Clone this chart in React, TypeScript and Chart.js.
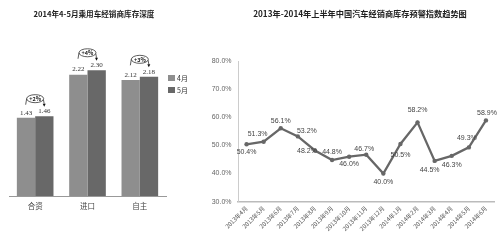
import React, { useEffect, useRef } from 'react';
import { Chart, registerables } from 'chart.js';

Chart.register(...registerables);

// ---------- Left chart data ----------
const leftTitle = '2014年4-5月乘用车经销商库存深度';
const barCategories = ['合资', '进口', '自主'];
const barSeriesNames = ['4月', '5月'];
const aprilValues = [1.43, 2.22, 2.12];
const mayValues = [1.46, 2.3, 2.18];
const changeLabels = ['+2%', '+4%', '+3%'];

// ---------- Right chart data ----------
const rightTitle = '2013年-2014年上半年中国汽车经销商库存预警指数趋势图';
const months = [
  '2013年4月', '2013年5月', '2013年6月', '2013年7月', '2013年8月',
  '2013年9月', '2013年10月', '2013年11月', '2013年12月', '2014年1月',
  '2014年2月', '2014年3月', '2014年4月', '2014年5月', '2014年6月',
];
const warningIndex = [50.4, 51.3, 56.1, 53.2, 48.2, 44.8, 46.0, 46.7, 40.0, 50.5, 58.2, 44.5, 46.3, 49.3, 58.9];
const yMin = 30;
const yMax = 80;
const yStep = 10;

// label placement (style only): [dx, dy] from point
const pointLabelOffsets = [
  [0, 8], [-6, -8], [0, -7], [9, -5], [-8, 1], [0, -8], [0, 7], [-2, -6],
  [0, 9], [0, 11], [0, -12], [-5, 9], [0, 9], [-2, -9], [1, -7],
];

const APRIL_COLOR = '#8e8e8e';
const MAY_COLOR = '#686868';
const CJK = '"Noto Sans CJK SC", "Noto Sans", sans-serif';

const leftPlugin = {
  id: 'leftDecor',
  afterDatasetsDraw(chart: any) {
    const ctx = chart.ctx;
    ctx.save();
    ctx.fillStyle = '#222';
    ctx.textAlign = 'center';
    ctx.textBaseline = 'middle';
    ctx.font = `bold 7.6px ${CJK}`;
    ctx.fillText(leftTitle, 94, 14);

    const m0 = chart.getDatasetMeta(0);
    const m1 = chart.getDatasetMeta(1);
    // value labels
    ctx.font = '7px "Liberation Serif", serif';
    ctx.fillStyle = '#333';
    [m0, m1].forEach((meta: any, di: number) => {
      meta.data.forEach((bar: any, i: number) => {
        const v = chart.data.datasets[di].data[i] as number;
        ctx.fillText(v.toFixed(2), bar.x, bar.y - 5);
      });
    });
    // change annotations
    m0.data.forEach((b0: any, i: number) => {
      const b1 = m1.data[i];
      const cx = (b0.x + b1.x) / 2;
      const cy = Math.min(b0.y, b1.y) - 17.5;
      ctx.strokeStyle = '#333';
      ctx.lineWidth = 0.8;
      ctx.beginPath();
      ctx.ellipse(cx, cy, 8.5, 4, 0, 0, Math.PI * 2);
      ctx.stroke();
      ctx.beginPath();
      ctx.moveTo(cx - 8.5, cy);
      ctx.lineTo(cx - 9.5, cy + 6);
      ctx.stroke();
      ctx.beginPath();
      ctx.moveTo(cx + 8.3, cy + 1);
      ctx.lineTo(cx + 9, cy + 5);
      ctx.stroke();
      ctx.fillStyle = '#111';
      ctx.beginPath();
      ctx.moveTo(cx + 7.5, cy + 5);
      ctx.lineTo(cx + 10.5, cy + 5);
      ctx.lineTo(cx + 9, cy + 8);
      ctx.closePath();
      ctx.fill();
      ctx.font = `bold 5.5px ${CJK}`;
      ctx.fillStyle = '#222';
      ctx.fillText(changeLabels[i], cx, cy + 0.5);
    });
    // legend
    const colors = [APRIL_COLOR, MAY_COLOR];
    ctx.textAlign = 'left';
    ctx.font = `7px ${CJK}`;
    barSeriesNames.forEach((name, i) => {
      const y = 75 + i * 12;
      ctx.fillStyle = colors[i];
      ctx.fillRect(168, y, 7, 6);
      ctx.fillStyle = '#333';
      ctx.fillText(name, 177, y + 3);
    });
    ctx.restore();
  },
};

const rightPlugin = {
  id: 'rightDecor',
  afterDatasetsDraw(chart: any) {
    const ctx = chart.ctx;
    ctx.save();
    ctx.fillStyle = '#222';
    ctx.textAlign = 'center';
    ctx.textBaseline = 'middle';
    ctx.font = `bold 8.2px ${CJK}`;
    ctx.fillText(rightTitle, 160, 13.5);

    const meta = chart.getDatasetMeta(0);
    ctx.font = '7px "Liberation Sans", sans-serif';
    ctx.fillStyle = '#444';
    meta.data.forEach((pt: any, i: number) => {
      const v = warningIndex[i];
      const [dx, dy] = pointLabelOffsets[i];
      ctx.fillText(v.toFixed(1) + '%', pt.x + dx, pt.y + dy);
    });
    ctx.restore();
  },
};

function LeftChart() {
  const ref = useRef<HTMLCanvasElement>(null);
  useEffect(() => {
    if (!ref.current) return;
    const chart = new Chart(ref.current, {
      type: 'bar',
      data: {
        labels: barCategories,
        datasets: [
          { label: barSeriesNames[0], data: aprilValues, backgroundColor: APRIL_COLOR, categoryPercentage: 0.7, barPercentage: 1 },
          { label: barSeriesNames[1], data: mayValues, backgroundColor: MAY_COLOR, categoryPercentage: 0.7, barPercentage: 1 },
        ],
      },
      options: {
        responsive: false,
        animation: false,
        layout: { padding: { left: 9, right: 34, top: 32, bottom: 24 } },
        plugins: { legend: { display: false }, title: { display: false }, tooltip: { enabled: false } },
        scales: {
          x: {
            offset: true,
            grid: { display: false, drawTicks: false },
            border: { display: true, color: '#999', width: 1 },
            ticks: { font: { size: 7.5, family: CJK }, color: '#444', padding: 6 },
          },
          y: { display: false, min: 0, max: 3 },
        },
      },
      plugins: [leftPlugin],
    });
    return () => chart.destroy();
  }, []);
  return <canvas ref={ref} width={200} height={241} style={{ position: 'absolute', left: 0, top: 0 }} />;
}

function RightChart() {
  const ref = useRef<HTMLCanvasElement>(null);
  useEffect(() => {
    if (!ref.current) return;
    const chart = new Chart(ref.current, {
      type: 'line',
      data: {
        labels: months,
        datasets: [
          {
            label: '库存预警指数',
            data: warningIndex,
            borderColor: '#676767',
            backgroundColor: '#676767',
            borderWidth: 2.3,
            pointRadius: 2.2,
            pointBackgroundColor: '#676767',
            pointBorderWidth: 0,
            tension: 0,
          },
        ],
      },
      options: {
        responsive: false,
        animation: false,
        layout: { padding: { left: 0, right: 5.5, top: 61, bottom: 0 } },
        plugins: { legend: { display: false }, title: { display: false }, tooltip: { enabled: false } },
        scales: {
          x: {
            offset: true,
            grid: { display: false, drawTicks: false },
            border: { display: true, color: '#bbb', width: 1.5 },
            ticks: { font: { size: 6, family: CJK }, color: '#555', padding: 3, minRotation: 45, maxRotation: 45, autoSkip: false },
            afterFit: (s: any) => { s.height = 39.3; },
          },
          y: {
            min: yMin,
            max: yMax,
            grid: { display: false, drawTicks: false },
            border: { display: true, color: '#ccc', width: 1 },
            ticks: {
              stepSize: yStep,
              font: { size: 7, family: '"Liberation Sans", sans-serif' },
              color: '#666',
              padding: 6.5,
              callback: (v: any) => Number(v).toFixed(1) + '%',
            },
            afterFit: (s: any) => { s.width = 38; },
          },
        },
      },
      plugins: [rightPlugin],
    });
    return () => chart.destroy();
  }, []);
  return <canvas ref={ref} width={300} height={241} style={{ position: 'absolute', left: 200, top: 0 }} />;
}

export default function App() {
  return (
    <div style={{ position: 'fixed', left: 0, top: 0, width: 500, height: 241, background: '#fff' }}>
      <LeftChart />
      <RightChart />
    </div>
  );
}
